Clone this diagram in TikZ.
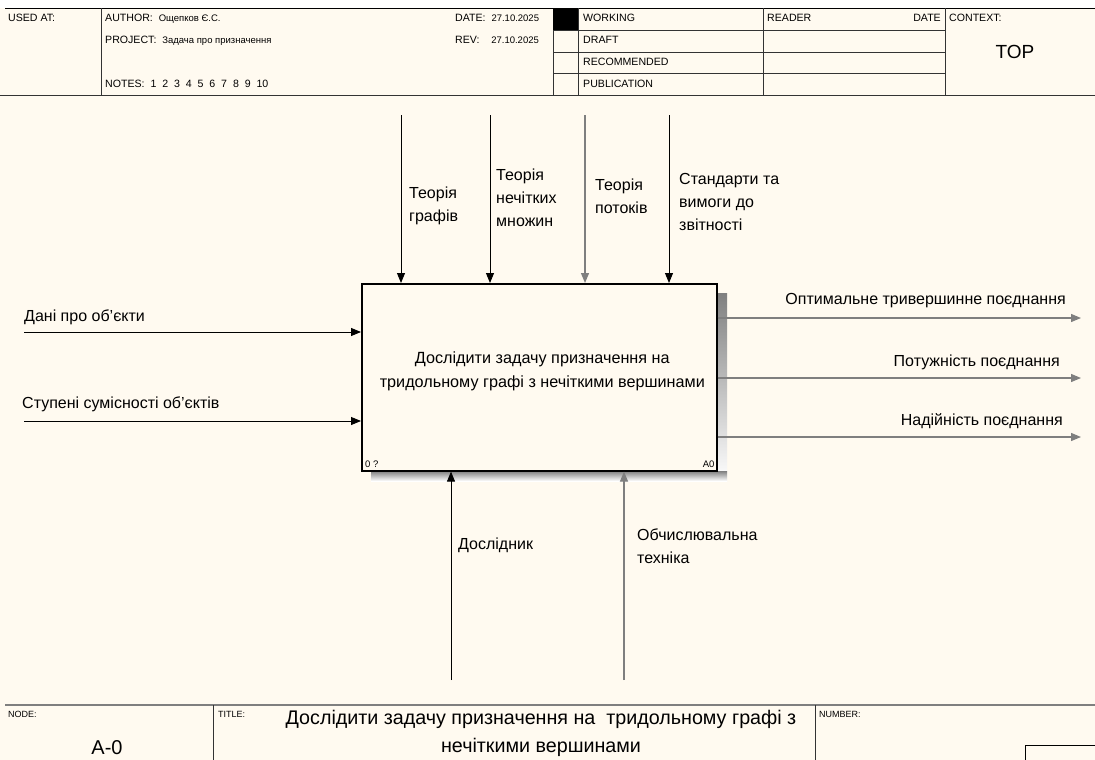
\documentclass[tikz,border=0pt]{standalone}
\usepackage{fontspec}
\setmainfont{Liberation Sans}
\usetikzlibrary{arrows.meta}
\definecolor{paper}{HTML}{FFFAF0}
\definecolor{rule}{HTML}{7F7F7F}
\definecolor{shade}{HTML}{B5B3AD}
\newcommand{\valfont}{\fontsize{9.5}{11}\selectfont}
\tikzset{
  hdr/.style={draw=black!80, line width=0.9pt},
  small/.style={inner sep=0pt, font=\fontsize{10.6}{12}\selectfont},
  tiny/.style={inner sep=0pt, font=\fontsize{9}{10}\selectfont},
  lbl/.style={inner sep=0pt, align=left, font=\fontsize{16}{23}\selectfont},
  rlbl/.style={inner sep=0pt, align=right, font=\fontsize{16}{23}\selectfont},
  arr/.style={draw=black, line width=0.9pt, -{Triangle[length=10pt,width=8pt]}},
  garr/.style={draw=rule, line width=1.2pt, -{Triangle[length=10pt,width=8pt]}},
  funcbox/.style={draw=black, line width=1.6pt, fill=paper, minimum width=355pt,
    minimum height=187pt, inner sep=0pt},
  boxtext/.style={inner sep=0pt, align=center, font=\fontsize{16.2}{24}\selectfont},
}
\begin{document}
\begin{tikzpicture}[x=1pt,y=-1pt]
\useasboundingbox (0,0) rectangle (1095,760);
\fill[paper] (0,0) rectangle (1095,760);
\fill[white] (0,0) rectangle (1095,8);

% ---------- header ----------
\draw[black, line width=1pt] (5,8.5) -- (1095,8.5);
\draw[hdr] (0,95) -- (1095,95);
\foreach \x in {101,553,578,763,945} \draw[hdr] (\x,8.5) -- (\x,95);
\foreach \y in {30,52,73} \draw[hdr] (553,\y) -- (945,\y);
\fill[black] (553,8.5) rectangle (578,30);

\node[small, anchor=base west] (usedat) at (8,22) {USED AT:};
\node[small, anchor=base west] (author) at (105,22) {AUTHOR:\ \ {\valfont Ощепков Є.С.}};
\node[small, anchor=base west] (project) at (105,44) {PROJECT:\ \ {\valfont Задача про призначення}};
\node[small, anchor=base west] (notes) at (105,88) {NOTES:\ \ 1\ \ 2\ \ 3\ \ 4\ \ 5\ \ 6\ \ 7\ \ 8\ \ 9\ \ 10};
\node[small, anchor=base west] (date) at (455,22) {DATE:\ \ {\valfont 27.10.2025}};
\node[small, anchor=base west] (rev) at (455,44) {REV:\ \ \ \ {\valfont 27.10.2025}};
\node[small, anchor=base west] (working) at (583,22) {WORKING};
\node[small, anchor=base west] (draft) at (583,44) {DRAFT};
\node[small, anchor=base west] (recom) at (583,66) {RECOMMENDED};
\node[small, anchor=base west] (publ) at (583,88) {PUBLICATION};
\node[small, anchor=base west] (reader) at (767,22) {READER};
\node[small, anchor=base east] (rdate) at (941,22) {DATE};
\node[small, anchor=base west] (context) at (949,22) {CONTEXT:};
\node[inner sep=0pt, font=\fontsize{19}{22}\selectfont] (top) at (1015,52) {TOP};

% ---------- activity box ----------
\fill[shade] (717,293) rectangle (727,481);
\fill[shade] (371,471) rectangle (727,481);
\node[funcbox, anchor=north west] (A0) at (361,283) {};
\node[boxtext] (A0name) at ([shift={(3pt,6pt)}]A0.center)
  {Дослідити задачу призначення на\hspace{7pt}\\тридольному графі з нечіткими вершинами};
\node[inner sep=0pt, font=\fontsize{9.5}{11}\selectfont, anchor=south west] (num) at ([shift={(4,-4)}]A0.south west) {0 ?};
\node[inner sep=0pt, font=\fontsize{9.5}{11}\selectfont, anchor=south east] (code) at ([shift={(-3,-4)}]A0.south east) {A0};

% ---------- controls ----------
\coordinate (c1) at (401,115);
\coordinate (c2) at (490,115);
\coordinate (c3) at (585,115);
\coordinate (c4) at (669,115);
\draw[arr] (c1) -- (c1 |- A0.north);
\draw[arr] (c2) -- (c2 |- A0.north);
\draw[garr] (c3) -- (c3 |- A0.north);
\draw[arr] (c4) -- (c4 |- A0.north);
\node[lbl, anchor=north west] (lc1) at (409,187) {Теорія\\графів};
\node[lbl, anchor=north west] (lc2) at (496,169) {Теорія\\нечітких\\множин};
\node[lbl, anchor=north west] (lc3) at (595,179) {Теорія\\потоків};
\node[lbl, anchor=north west] (lc4) at (679,173) {Стандарти та\\вимоги до\\звітності};

% ---------- inputs ----------
\coordinate (i1) at (24,332);
\coordinate (i2) at (24,421);
\draw[arr] (i1) -- (i1 -| A0.west);
\draw[arr] (i2) -- (i2 -| A0.west);
\node[lbl, anchor=base west] (li1) at (24,321) {Дані про об'єкти};
\node[lbl, anchor=base west] (li2) at (22,408) {Ступені сумісності об'єктів};

% ---------- outputs ----------
\coordinate (o1) at (1081,318);
\coordinate (o2) at (1081,378);
\coordinate (o3) at (1081,437);
\draw[garr] (o1 -| A0.east) -- (o1);
\draw[garr] (o2 -| A0.east) -- (o2);
\draw[garr] (o3 -| A0.east) -- (o3);
\node[rlbl, anchor=base east] (lo1) at (1066,304) {Оптимальне тривершинне поєднання};
\node[rlbl, anchor=base east] (lo2) at (1060,366) {Потужність поєднання};
\node[rlbl, anchor=base east] (lo3) at (1063,425) {Надійність поєднання};

% ---------- mechanisms ----------
\coordinate (m1) at (451,680);
\coordinate (m2) at (624,680);
\draw[arr] (m1) -- (m1 |- A0.south);
\draw[garr] (m2) -- (m2 |- A0.south);
\node[lbl, anchor=north west] (lm1) at (458,538) {Дослідник};
\node[lbl, anchor=north west] (lm2) at (637,529) {Обчислювальна\\техніка};

% ---------- footer ----------
\draw[rule, line width=2pt] (5,705) -- (1095,705);
\draw[black!80, line width=0.9pt] (213,705) -- (213,760);
\draw[black!80, line width=0.9pt] (815,705) -- (815,760);
\node[tiny, anchor=base west] (nodelbl) at (8,717) {NODE:};
\node[tiny, anchor=base west] (titlelbl) at (218,717) {TITLE:};
\node[tiny, anchor=base west] (numlbl) at (819,717) {NUMBER:};
\node[inner sep=0pt, font=\fontsize{20}{24}\selectfont] (nodeid) at (107,748) {A-0};
\node[inner sep=0pt, align=center, font=\fontsize{19.7}{28}\selectfont, anchor=north] (title) at (541,710)
  {Дослідити задачу призначення на\ \ тридольному графі з\\нечіткими вершинами};
\draw[black, line width=0.9pt] (1095,745) -| (1025,762);
\end{tikzpicture}
\end{document}
